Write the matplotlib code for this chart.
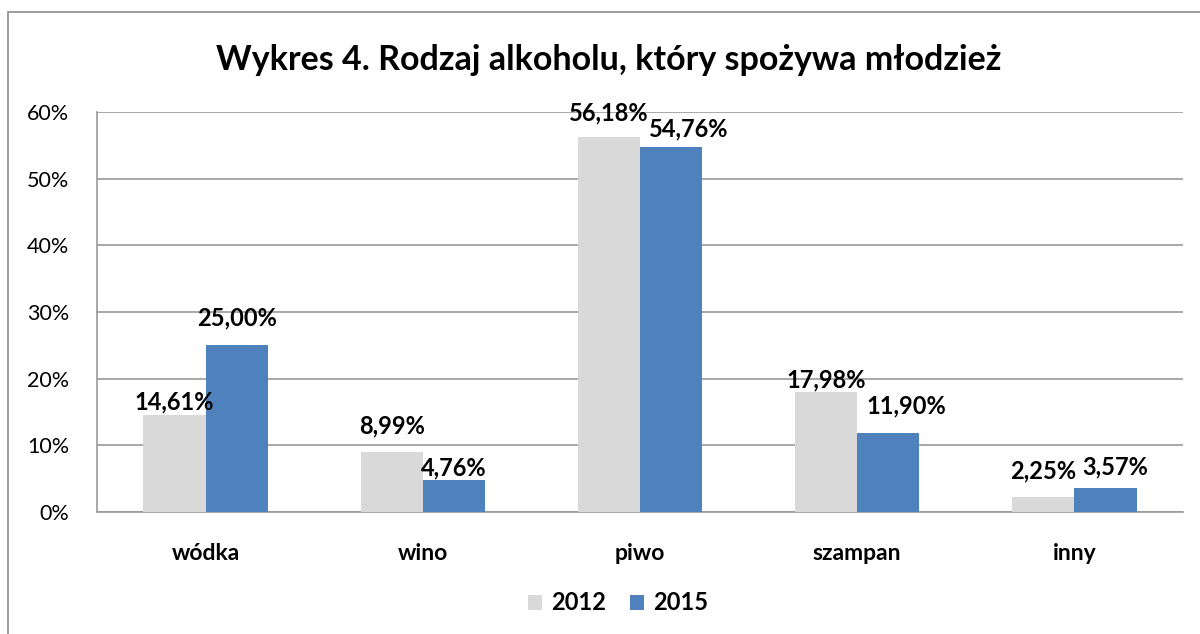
import numpy as np
import matplotlib.pyplot as plt
from matplotlib.patches import Rectangle

plt.rcParams['font.family'] = ['Lato', 'DejaVu Sans']

# Data
categories = ['wódka', 'wino', 'piwo', 'szampan', 'inny']
years = ['2012', '2015']
values_2012 = [14.61, 8.99, 56.18, 17.98, 2.25]
values_2015 = [25.00, 4.76, 54.76, 11.90, 3.57]

# label offsets (points) - Excel moved some labels to avoid overlaps
dy_2012 = [9, 19, 18, 9, 19]
dy_2015 = [19.5, 9, 13, 19, 15]
dx_2012 = [0, 0, 0, 0, 0]
dx_2015 = [0, 0, 13, 13, 7]

col_2012 = '#d9d9d9'
col_2015 = '#4f81bd'
grid_col = '#9a9a9a'

fig = plt.figure(figsize=(12, 6.34), dpi=100)
fig.patches.append(Rectangle((8/1200, -0.1), 1.2, 1 - 12/634 + 0.1, transform=fig.transFigure,
                             fill=False, edgecolor='#8c8c8c', linewidth=1.2))

ax = fig.add_axes([97/1200, 122/634, 1086/1200, 400/634])

x = np.arange(len(categories))
w = 0.286
b1 = ax.bar(x - w/2, values_2012, w, color=col_2012, label=years[0], zorder=3)
b2 = ax.bar(x + w/2, values_2015, w, color=col_2015, label=years[1], zorder=3)

def fmt(v):
    return ('%.2f%%' % v).replace('.', ',')

for bars, vals, dxs, dys in [(b1, values_2012, dx_2012, dy_2012), (b2, values_2015, dx_2015, dy_2015)]:
    for rect, v, dx, dy in zip(bars, vals, dxs, dys):
        ax.annotate(fmt(v), (rect.get_x() + rect.get_width()/2, v), xytext=(dx, dy),
                    textcoords='offset points', ha='center', va='center',
                    fontsize=17, fontweight='bold', zorder=5)

ax.set_xlim(-0.5, len(categories) - 0.5)
ax.set_ylim(0, 60)
ax.set_yticks(np.arange(0, 61, 10))
ax.set_yticklabels(['%d%%' % t for t in range(0, 61, 10)], fontsize=15.5)
ax.set_xticks(x)
ax.set_xticklabels(categories, fontsize=16.5, fontweight='bold')
ax.tick_params(axis='y', length=0, pad=20)
ax.tick_params(axis='x', length=0, pad=22)
ax.grid(axis='y', color=grid_col, linewidth=1.2, zorder=0)
for s in ['top', 'right']:
    ax.spines[s].set_visible(False)
ax.spines['left'].set_color(grid_col)
ax.spines['bottom'].set_color(grid_col)
ax.spines['left'].set_linewidth(1.2)
ax.spines['bottom'].set_linewidth(1.2)

fig.text(0.507, 1 - 60/634, 'Wykres 4. Rodzaj alkoholu, który spożywa młodzież',
         ha='center', va='center', fontsize=24.5, fontweight='bold')

fig.legend(handles=[b1, b2], labels=years, loc='center', bbox_to_anchor=(618/1200, 1 - 603/634),
           ncol=2, frameon=False, prop={'size': 17, 'weight': 'bold'},
           handlelength=0.6, handleheight=0.6, handletextpad=0.4, columnspacing=1.0)

fig.savefig('out.png', dpi=100)
